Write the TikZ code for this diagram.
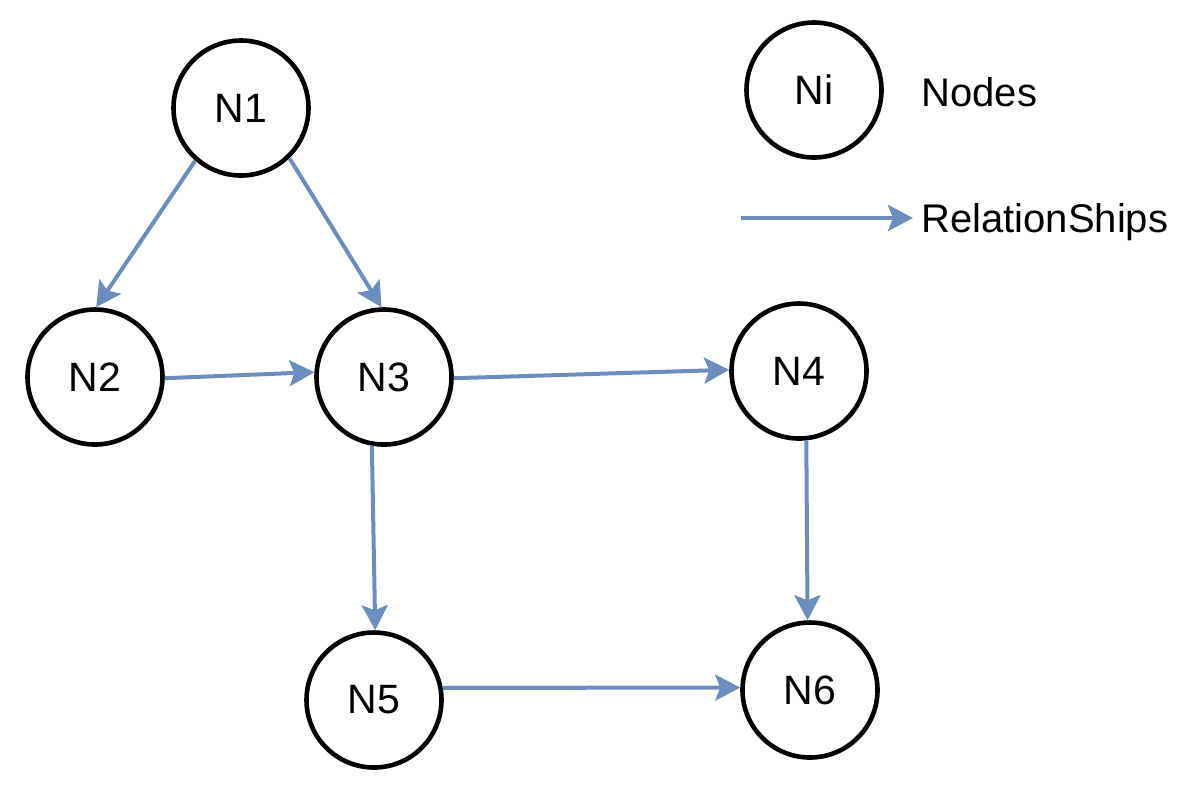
\documentclass[tikz,border=0pt]{standalone}
\usepackage{fontspec}
\setmainfont{Liberation Sans}
\usetikzlibrary{arrows.meta}
\definecolor{edgeblue}{HTML}{6C8EBF}
\begin{document}
\begin{tikzpicture}[x=0.5pt,y=-0.5pt,
  nodecirc/.style={circle,draw=black,line width=2.3pt,minimum size=67.5pt,inner sep=0pt,font=\fontsize{20.5}{24}\selectfont},
  rel/.style={draw=edgeblue,line width=2pt,-{Stealth[length=12.5pt,width=13pt,inset=2.5pt]}},
  lbl/.style={anchor=base west,inner sep=0pt,font=\fontsize{20}{24}\selectfont}]
\useasboundingbox (0,0) rectangle (1198,784);
\node[nodecirc] (n1) at (241,108) {N1};
\node[nodecirc] (n2) at (95,377) {N2};
\node[nodecirc] (n3) at (384,377) {N3};
\node[nodecirc] (n4) at (799,371) {N4};
\node[nodecirc] (n5) at (374,700) {N5};
\node[nodecirc] (n6) at (810,690) {N6};
\node[nodecirc] (ni) at (814,90) {Ni};
\node[lbl] (tnodes) at (921,106) {Nodes};
\node[lbl] (trel) at (921,232) {RelationShips};
\coordinate (la) at (741,218);
\coordinate (lb) at (913,218);
\draw[rel] (n1.229) -- (n2.89);
\draw[rel] (n1.314) -- (n3.92);
\draw[rel] (n2.359) -- (n3.176);
\draw[rel] (n3.359) -- (n4.179);
\draw[rel] (n3.260) -- (n5.89);
\draw[rel] (n4.276) -- (n6.92);
\draw[rel] (n5.10) -- (n6.178);
\draw[rel] (la) -- (lb);
\end{tikzpicture}
\end{document}
